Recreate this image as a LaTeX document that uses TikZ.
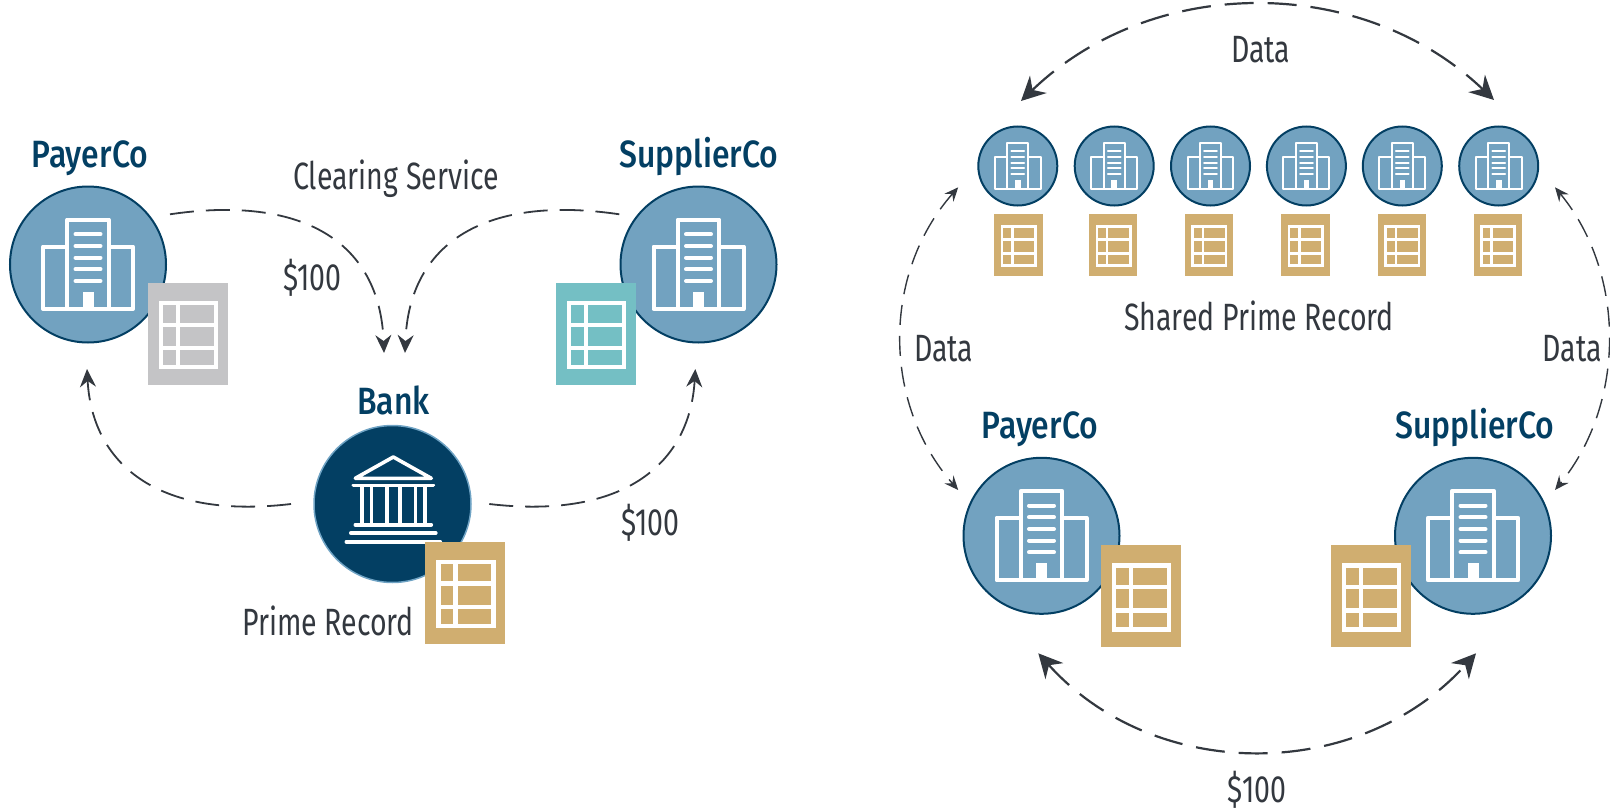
\documentclass[tikz,border=0pt]{standalone}
\usepackage{fontspec}
\setmainfont{Fira Sans}[FakeStretch=0.75]
\newfontfamily\titlefont{Fira Sans Medium}[FakeStretch=0.84]
\usetikzlibrary{arrows.meta}
\definecolor{corp}{HTML}{72A2C0}
\definecolor{navy}{HTML}{033F63}
\definecolor{ringblue}{HTML}{6FA3C4}
\definecolor{gold}{HTML}{D0AE70}
\definecolor{greydoc}{HTML}{C4C4C6}
\definecolor{tealdoc}{HTML}{74BFC4}
\definecolor{ink}{HTML}{33383F}
\tikzset{
  corpcircle/.style={circle,draw=navy,fill=corp,line width=2pt,inner sep=0pt,outer sep=0pt,minimum size=#1},
  bankcircle/.style={circle,draw=ringblue,fill=navy,line width=1.5pt,inner sep=0pt,outer sep=0pt,minimum size=157pt},
  docbox/.style={rectangle,draw=none,inner sep=0pt,outer sep=0pt},
  title/.style={anchor=base,text=navy,font=\fontsize{38}{38}\titlefont,inner sep=0pt},
  label/.style={anchor=base,text=ink,font=\fontsize{38}{38}\selectfont,inner sep=0pt},
  flowone/.style={draw=ink,line width=1.8pt,dash pattern=on 24pt off 12pt,-{Stealth[length=18pt,width=16pt,inset=6pt]}},
  flowwide/.style={draw=ink,line width=2.2pt,dash pattern=on 29pt off 14pt,{Stealth[length=24pt,width=24pt,inset=8pt]}-{Stealth[length=24pt,width=24pt,inset=8pt]}},
  flowside/.style={draw=ink,line width=1.4pt,dash pattern=on 20pt off 11pt,{Stealth[length=14pt,width=12pt,inset=5pt]}-{Stealth[length=14pt,width=12pt,inset=5pt]}},
}
% name, cx, cy, scale, diameter
\newcommand{\corpicon}[5]{%
  \node[corpcircle=#5] (#1) at (#2,#3) {};
  \begin{scope}[shift={(#2,#3)},scale=#4,draw=white,line width=#4*4pt]
    \draw[line join=round] (-45,-18) rectangle (45,44.5);
    \draw[fill=corp,line join=round] (-20.7,44.5) -- (-20.7,-45) -- (20.7,-45) -- (20.7,44.5) -- cycle;
    \draw[fill=white,draw=none] (-5.5,27.5) rectangle (5.5,44.5);
    \foreach \yy in {-30.2,-18.5,-6.8,4.8,16.5}
      \draw[line cap=round] (-12.5,\yy) -- (12.5,\yy);
  \end{scope}}
% name, cx, cy, scale, colour
\newcommand{\docicon}[5]{%
  \node[docbox,fill=#5,minimum width=#4*80pt,minimum height=#4*102pt] (#1) at (#2,#3) {};
  \begin{scope}[shift={(#2,#3)},scale=#4,draw=white,line width=#4*4.4pt]
    \draw (-27,-31) rectangle (28,33);
    \draw (-10,-31) -- (-10,33);
    \draw (-27,-9.2) -- (28,-9.2);
    \draw (-27,14) -- (28,14);
  \end{scope}}
\begin{document}
\begin{tikzpicture}[x=1pt,y=-1pt]
\useasboundingbox (0,0) rectangle (1610,811);
% ---------- left diagram
\corpicon{payerA}{88}{264.5}{1}{156pt}
\corpicon{supplierA}{698.5}{264.5}{1}{156pt}
\docicon{docPayerA}{188}{334}{1}{greydoc}
\docicon{docSupplierA}{596}{334}{1}{tealdoc}
\node[bankcircle] (bank) at (392.5,504) {};
\begin{scope}[shift={(393.3,504)},draw=white,line width=3.6pt,line cap=round,line join=round]
  \draw (-38,-25.7) -- (0,-47) -- (38,-25.7) -- cycle;
  \draw (-40,-18.7) -- (40,-18.7);
  \foreach \xx in {-31.5,-22,-6.5,6.5,22,31.5}
    \draw[line cap=butt] (\xx,-18.7) -- (\xx,20.7);
  \draw (-38,20.7) -- (38,20.7);
  \draw (-42.5,29) -- (42.5,29);
  \draw (-47,37.7) -- (47,37.7);
\end{scope}
\docicon{docBank}{465.3}{592.7}{1}{gold}
\node[title] (tPayerA) at (90,167.5) {PayerCo};
\node[title] (tSupplierA) at (699,167.5) {SupplierCo};
\node[title] (tBank) at (393.7,414.5) {Bank};
\node[label] (tClearing) at (396,189) {Clearing Service};
\node[label] (tLeftAmt) at (312.5,290) {\$100};
\node[label] (tRightAmt) at (650.4,535.3) {\$100};
\node[label] (tPrime) at (328,635) {Prime Record};
\coordinate (a1) at (170,214.3);
\coordinate (a2) at (384,353);
\coordinate (b1) at (619.3,214.3);
\coordinate (b2) at (405,353);
\coordinate (c1) at (291,504);
\coordinate (c2) at (87,369);
\coordinate (d1) at (489.3,504);
\coordinate (d2) at (695.3,369);
\draw[flowone] (a1) .. controls (300,195) and (380,240) .. (a2);
\draw[flowone] (b1) .. controls (489,195) and (409,240) .. (b2);
\draw[flowone] (c1) .. controls (155,520) and (92,462) .. (c2);
\draw[flowone] (d1) .. controls (626,520) and (690,462) .. (d2);
% ---------- right diagram
\foreach \nn/\cx/\dx in {1/1017.8/1018.3,2/1114.2/1113.2,3/1210.5/1209.1,4/1306.4/1305.5,5/1402.3/1401.9,6/1498.7/1497.8}{
  \corpicon{c\nn}{\cx}{166}{0.51}{79pt}
  \docicon{s\nn}{\dx}{245.2}{0.606}{gold}
}
\corpicon{payerB}{1041.5}{535.8}{1}{156pt}
\corpicon{supplierB}{1473}{535.8}{1}{156pt}
\docicon{docPayerB}{1141.2}{596.3}{1}{gold}
\docicon{docSupplierB}{1371.2}{596.3}{1}{gold}
\node[title] (tPayerB) at (1040,438.5) {PayerCo};
\node[title] (tSupplierB) at (1475,438.5) {SupplierCo};
\node[label] (tDataTop) at (1260.6,62) {Data};
\node[label] (tShared) at (1259,330) {Shared Prime Record};
\node[label] (tDataL) at (943.6,361) {Data};
\node[label] (tDataR) at (1572,361) {Data};
\node[label] (tAmtB) at (1257,802) {\$100};
\coordinate (e1) at (1021,101);
\coordinate (e2) at (1494,100);
\coordinate (f1) at (958.2,187.3);
\coordinate (f2) at (958.2,490);
\coordinate (g1) at (1555,187.3);
\coordinate (g2) at (1555,490);
\coordinate (h1) at (1038.3,653.3);
\coordinate (h2) at (1476,653.3);
\draw[flowwide] (e1) .. controls (1153,-26) and (1362,-26) .. (e2);
\draw[flowside] (f1) .. controls (882,273.7) and (882,403) .. (f2);
\draw[flowside] (g1) .. controls (1626,273.7) and (1626,403) .. (g2);
\draw[flowwide] (h1) .. controls (1155,783) and (1359,783) .. (h2);
\end{tikzpicture}
\end{document}
